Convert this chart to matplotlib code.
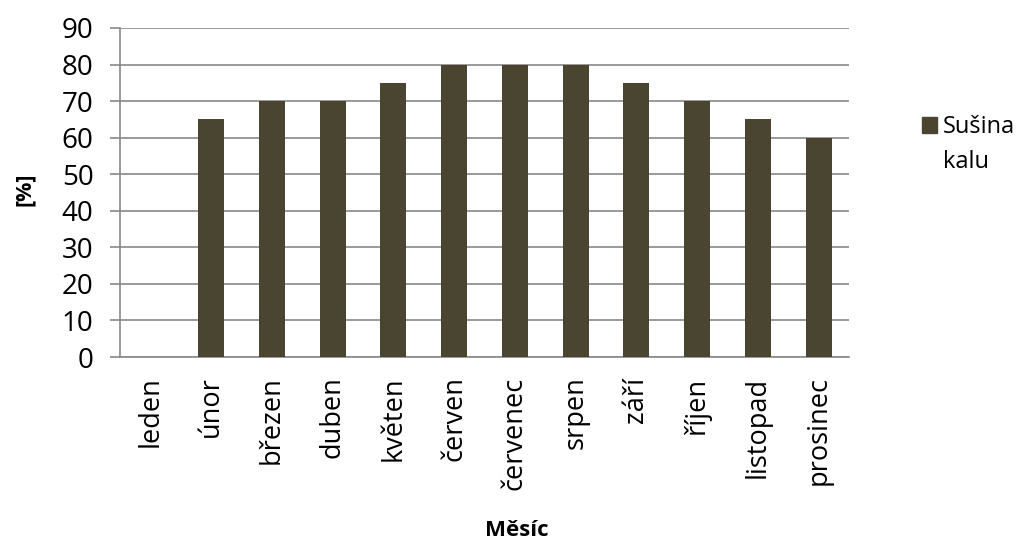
import matplotlib.pyplot as plt
from matplotlib.patches import Rectangle

# monthly sludge dry matter
months = ['leden', 'únor', 'březen', 'duben', 'květen', 'červen',
          'červenec', 'srpen', 'září', 'říjen', 'listopad', 'prosinec']
susina = [0, 65, 70, 70, 75, 80, 80, 80, 75, 70, 65, 60]
y_ticks = [0, 10, 20, 30, 40, 50, 60, 70, 80, 90]

bar_color = '#4a4530'
grid_color = '#898989'

plt.rcParams['font.family'] = ['Open Sans', 'DejaVu Sans']

W, H = 1016, 543
fig = plt.figure(figsize=(W / 100, H / 100), dpi=100)
ax = fig.add_axes([120 / W, 1 - 357 / H, 729 / W, 329 / H])

x = range(len(months))
ax.bar(x, susina, width=0.43, color=bar_color, zorder=3)

ax.set_xlim(-0.5, len(months) - 0.5)
ax.set_ylim(0, 90)
ax.set_yticks(y_ticks)
ax.set_xticks(list(x))
ax.set_xticklabels(months, rotation=90, fontsize=19.5, va='top')
ax.tick_params(axis='y', labelsize=20, length=7, width=1.2, color=grid_color, pad=12)
ax.tick_params(axis='x', length=0, pad=14)

ax.grid(axis='y', color=grid_color, linewidth=1.2, zorder=0)
for side in ['top', 'right']:
    ax.spines[side].set_visible(False)
for side in ['left', 'bottom']:
    ax.spines[side].set_color(grid_color)
    ax.spines[side].set_linewidth(1.2)

fig.text(24 / W, 1 - 189 / H, '[%]', rotation=90, fontsize=15.5, fontweight='bold',
         ha='center', va='center')
fig.text(517 / W, 1 - 530 / H, 'Měsíc', fontsize=16, fontweight='bold',
         ha='center', va='center')

# legend
fig.add_artist(Rectangle((922 / W, 1 - 133 / H), 15 / W, 16 / H,
                         transform=fig.transFigure, color=bar_color))
fig.text(943 / W, 1 - 133 / H, 'Sušina', fontsize=17, ha='left', va='baseline')
fig.text(943 / W, 1 - 168 / H, 'kalu', fontsize=17, ha='left', va='baseline')

fig.savefig('out.png', dpi=100)
